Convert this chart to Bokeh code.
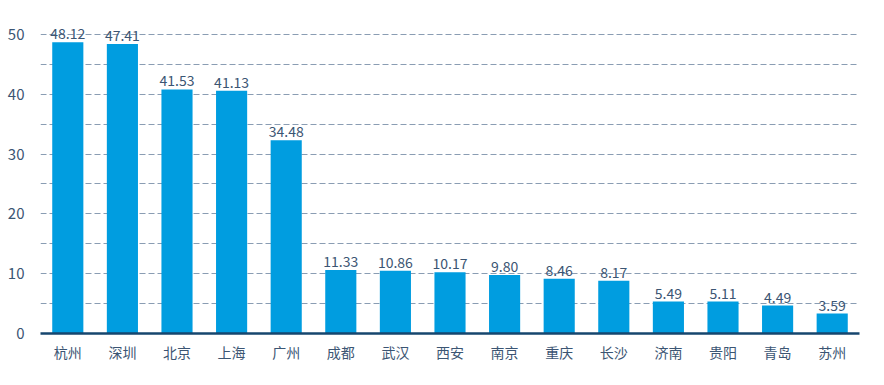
from bokeh.plotting import figure
from bokeh.models import ColumnDataSource, FixedTicker, Range1d, LabelSet
from bokeh.core.properties import value
from bokeh.embed import file_html
from bokeh.resources import INLINE

cities = ["杭州", "深圳", "北京", "上海", "广州", "成都", "武汉", "西安", "南京", "重庆",
          "长沙", "济南", "贵阳", "青岛", "苏州"]
bar_values = [48.7, 48.4, 40.8, 40.6, 32.3, 10.6, 10.5, 10.25, 9.8, 9.15,
              8.8, 5.35, 5.35, 4.68, 3.34]
value_labels = ["48.12", "47.41", "41.53", "41.13", "34.48", "11.33", "10.86", "10.17",
                "9.80", "8.46", "8.17", "5.49", "5.11", "4.49", "3.59"]
y_ticks = [0, 10, 20, 30, 40, 50]
grid_ticks = [5, 10, 15, 20, 25, 30, 35, 40, 45, 50]

FONT = "Noto Sans CJK SC"
TEXT = "#3b5573"

src = ColumnDataSource(dict(x=cities, top=bar_values, lab=value_labels))

p = figure(x_range=cities, y_range=Range1d(0, 53), width=868, height=369,
           output_backend="svg", toolbar_location=None,
           min_border_left=40, min_border_right=9, min_border_top=16, min_border_bottom=36)
p.outline_line_color = None
p.background_fill_color = "white"
p.border_fill_color = "white"
p.x_range.range_padding = 0

p.vbar(x="x", top="top", width=0.57, source=src, fill_color="#009de0", line_color=None)

labels = LabelSet(x="x", y="top", text="lab", source=src, text_align="center",
                  text_baseline="bottom", y_offset=3, text_font=value(FONT),
                  text_font_size="14px", text_color=TEXT)
p.add_layout(labels)

p.xgrid.grid_line_color = None
p.ygrid.ticker = FixedTicker(ticks=grid_ticks)
p.ygrid.grid_line_color = "#8a9db3"
p.ygrid.grid_line_dash = "6 3"
p.ygrid.grid_line_width = 1

p.yaxis.ticker = FixedTicker(ticks=y_ticks)
p.yaxis.axis_line_color = None
p.yaxis.major_tick_line_color = None
p.yaxis.minor_tick_line_color = None
p.yaxis.major_label_text_font = FONT
p.yaxis.major_label_text_font_size = "15px"
p.yaxis.major_label_text_color = TEXT
p.yaxis.major_label_standoff = 10

p.xaxis.axis_line_color = "#16466e"
p.xaxis.axis_line_width = 2.5
p.xaxis.major_tick_line_color = None
p.xaxis.minor_tick_line_color = None
p.xaxis.major_label_text_font = FONT
p.xaxis.major_label_text_font_size = "14px"
p.xaxis.major_label_text_color = TEXT
p.xaxis.major_label_standoff = 2

open("out.html", "w").write(file_html(p, INLINE))
